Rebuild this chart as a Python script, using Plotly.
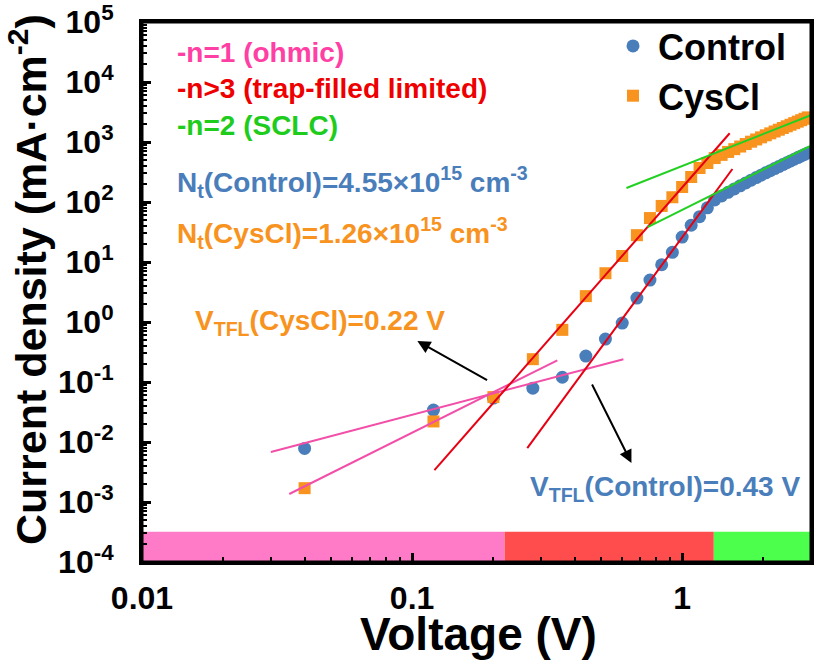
import plotly.graph_objects as go
import math

# ---------------- data ----------------
voltage = [0.04, 0.12, 0.20, 0.28, 0.36, 0.44, 0.52, 0.60, 0.68, 0.76,
           0.84, 0.92, 1.00, 1.08, 1.16, 1.24, 1.32, 1.40, 1.48, 1.56,
           1.64, 1.72, 1.80, 1.88, 1.96, 2.04, 2.12, 2.20, 2.28, 2.36,
           2.44, 2.52, 2.60, 2.68, 2.76, 2.84, 2.92]
control_j = [0.0078, 0.034, 0.054, 0.079, 0.12, 0.27, 0.52, 0.96, 2.5, 5.0,
             9.0, 14.5, 26, 41, 57, 80, 108, 126, 145, 165,
             186, 208, 231, 255, 280, 306, 333, 361, 390, 420,
             451, 483, 516, 550, 585, 621, 658]
cyscl_j = [0.0017, 0.022, 0.056, 0.24, 0.74, 2.7, 6.5, 12.6, 28, 54,
           86, 120, 178, 261, 369, 447, 540, 610, 683, 760,
           840, 925, 1012, 1102, 1196, 1293, 1393, 1496, 1602, 1712,
           1825, 1941, 2060, 2183, 2309, 2438, 2570]

# fitted lines (end points)
ohmic_control_v = [0.030, 0.606]
ohmic_control_j = [0.0068, 0.24]
ohmic_cyscl_v = [0.0351, 0.345]
ohmic_cyscl_j = [0.00136, 0.23]
tfl_control_v = [0.267, 1.535]
tfl_control_j = [0.0079, 355]
tfl_cyscl_v = [0.121, 1.50]
tfl_cyscl_j = [0.0034, 1400]
sclc_control_v = [0.745, 3.14]
sclc_control_j = [38, 960]
sclc_cyscl_v = [0.622, 3.14]
sclc_cyscl_j = [171, 3040]

# axis ranges
x_range = [0.01, 3.0]
y_range = [1e-4, 1e5]

# regime bands along the bottom
region_edges = [0.01, 0.22, 1.31, 3.0]
region_band = [1e-4, 3.2e-4]

# ticks
x_tick_vals = [0.01, 0.1, 1]
x_tick_text = ["0.01", "0.1", "1"]
x_minor_vals = [0.02, 0.03, 0.04, 0.05, 0.06, 0.07, 0.08, 0.09,
                0.2, 0.3, 0.4, 0.5, 0.6, 0.7, 0.8, 0.9, 2, 3]
y_tick_vals = [1e-4, 1e-3, 1e-2, 1e-1, 1e0, 1e1, 1e2, 1e3, 1e4, 1e5]
y_tick_text = ["10<sup>-4</sup>", "10<sup>-3</sup>", "10<sup>-2</sup>", "10<sup>-1</sup>",
               "10<sup>0</sup>", "10<sup>1</sup>", "10<sup>2</sup>", "10<sup>3</sup>",
               "10<sup>4</sup>", "10<sup>5</sup>"]
y_minor_mult = [2, 3, 4, 5, 6, 7, 8, 9]
y_minor_vals = [m * d for d in y_tick_vals[:-1] for m in y_minor_mult]

# ---------------- styles ----------------
FONT = "Liberation Sans, Arial, sans-serif"
BLUE = "#4A7EBB"
ORANGE = "#F7931E"
PINK_LINE = "#F24FA8"
RED_LINE = "#E60012"
GREEN_LINE = "#22D022"
region_colors = ["#FF7BC8", "#FF4D4D", "#4DFF4D"]

fig = go.Figure()

for i, c in enumerate(region_colors):
    x0, x1 = region_edges[i], region_edges[i + 1]
    fig.add_trace(go.Scatter(
        x=[x0, x1, x1, x0, x0],
        y=[region_band[0], region_band[0], region_band[1], region_band[1], region_band[0]],
        fill="toself", fillcolor=c, mode="none", showlegend=False, hoverinfo="skip"))

fig.add_trace(go.Scatter(x=voltage, y=control_j, mode="markers", name="Control",
                         marker=dict(symbol="circle", size=13, color=BLUE)))
fig.add_trace(go.Scatter(x=voltage, y=cyscl_j, mode="markers", name="CysCl",
                         marker=dict(symbol="square", size=12, color=ORANGE)))

for xs, ys, col in [(ohmic_control_v, ohmic_control_j, PINK_LINE),
                    (ohmic_cyscl_v, ohmic_cyscl_j, PINK_LINE),
                    (tfl_control_v, tfl_control_j, RED_LINE),
                    (tfl_cyscl_v, tfl_cyscl_j, RED_LINE),
                    (sclc_control_v, sclc_control_j, GREEN_LINE),
                    (sclc_cyscl_v, sclc_cyscl_j, GREEN_LINE)]:
    fig.add_trace(go.Scatter(x=xs, y=ys, mode="lines", showlegend=False,
                             line=dict(color=col, width=2), hoverinfo="skip"))

# inner edge of the plot frame along the axis limits (half of it is clipped)
fig.add_trace(go.Scatter(
    x=[x_range[0], x_range[1], x_range[1], x_range[0], x_range[0]],
    y=[y_range[0], y_range[0], y_range[1], y_range[1], y_range[0]],
    mode="lines", line=dict(color="black", width=3), showlegend=False, hoverinfo="skip"))

L, R, T, B = 142, 6, 22, 102
W, H = 817, 664
pw, ph = W - L - R, H - T - B


def px(xp):
    return (xp - L) / pw


def py(yp):
    return (H - B - yp) / ph


texts = [
    ("-n=1 (ohmic)", "#FF3FA4", 175, 52, 28),
    ("-n>3 (trap-filled limited)", "#EE0000", 175, 88, 28),
    ("-n=2 (SCLC)", "#1ECC1E", 175, 125, 28),
    ("N<sub>t</sub>(Control)=4.55×10<sup>15</sup> cm<sup>-3</sup>", BLUE, 175, 182, 28),
    ("N<sub>t</sub>(CysCl)=1.26×10<sup>15</sup> cm<sup>-3</sup>", ORANGE, 175, 233, 28),
    ("V<sub>TFL</sub>(CysCl)=0.22 V", ORANGE, 193, 322, 28),
    ("V<sub>TFL</sub>(Control)=0.43 V", BLUE, 528, 488, 28),
]
for t, col, x, y, s in texts:
    fig.add_annotation(text=t, xref="paper", yref="paper", x=px(x), y=py(y),
                       xanchor="left", yanchor="middle", showarrow=False,
                       font=dict(family=FONT, size=s, color=col, weight="bold"))

# axis titles
fig.add_annotation(text="Voltage (V)", xref="paper", yref="paper", x=px(478), y=py(634),
                   xanchor="center", yanchor="middle", showarrow=False,
                   font=dict(family=FONT, size=46, color="black", weight="bold"))
fig.add_annotation(text="Current density (mA·cm<sup>-2</sup>)", xref="paper", yref="paper",
                   x=px(28), y=py(280), textangle=-90,
                   xanchor="center", yanchor="middle", showarrow=False,
                   font=dict(family=FONT, size=43, color="black", weight="bold"))

# arrows (log10 coordinates on log axes)
arrows = [((0.1046, 0.482), (0.192, 0.104)),
          ((0.649, 0.00447), (0.461, 0.096))]
for (hx, hy), (tx, ty) in arrows:
    fig.add_annotation(x=math.log10(hx), y=math.log10(hy), ax=math.log10(tx), ay=math.log10(ty),
                       xref="x", yref="y", axref="x", ayref="y", text="",
                       showarrow=True, arrowhead=2, arrowsize=1.3, arrowwidth=2,
                       arrowcolor="black")

axis_common = dict(type="log", showgrid=False, zeroline=False,
                   showline=True, linewidth=3, linecolor="black", mirror=True,
                   automargin=False, ticklabeloverflow="allow",
                   ticks="inside", ticklen=9, tickwidth=2.5, tickcolor="black",
                   tickfont=dict(family=FONT, size=32, color="black", weight="bold"),
                   layer="above traces")

fig.update_layout(
    width=W, height=H,
    margin=dict(l=L, r=R, t=T, b=B, autoexpand=False),
    plot_bgcolor="white", paper_bgcolor="white",
    xaxis=dict(axis_common, range=[math.log10(x_range[0]), math.log10(x_range[1])],
               tickvals=x_tick_vals, ticktext=x_tick_text, ticklabelstandoff=6,
               minor=dict(tickvals=x_minor_vals, ticks="inside", ticklen=5,
                          tickwidth=1.5, tickcolor="black")),
    yaxis=dict(axis_common, range=[math.log10(y_range[0]), math.log10(y_range[1])],
               tickvals=y_tick_vals, ticktext=y_tick_text, ticklabelstandoff=19,
               minor=dict(tickvals=y_minor_vals, ticks="inside", ticklen=5,
                          tickwidth=1.5, tickcolor="black")),
    legend=dict(x=px(608), y=py(16), xanchor="left", yanchor="top",
                bgcolor="rgba(0,0,0,0)", borderwidth=0, itemwidth=40,
                font=dict(family=FONT, size=36, color="black", weight="bold"),
                itemsizing="trace", tracegroupgap=0),
    showlegend=True,
)

fig.write_html("out.html", config={"displayModeBar": False},
               post_script="document.body.style.margin='0';document.body.style.overflow='hidden';")
